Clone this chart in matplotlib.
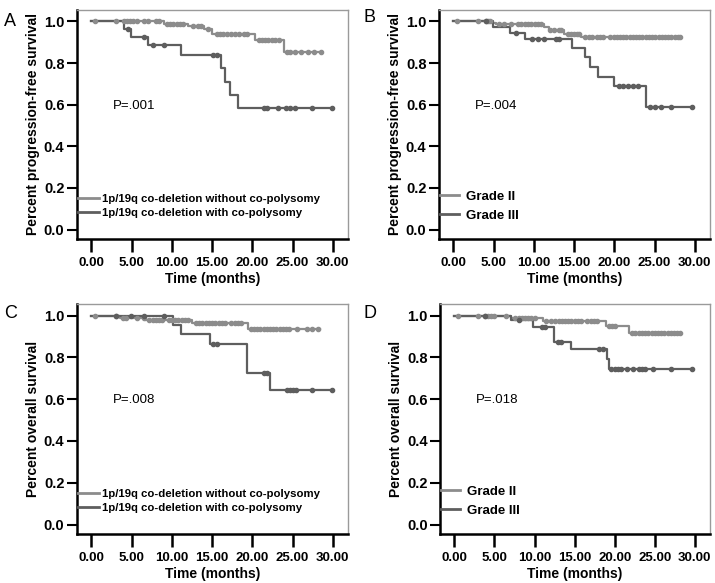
import matplotlib
matplotlib.use("Agg")
import matplotlib.pyplot as plt
from matplotlib.lines import Line2D
import numpy as np

plt.rcParams['font.family'] = ['Liberation Sans', 'DejaVu Sans']

LIGHT = '#8c8c8c'
DARK = '#5e5e5e'

# ---- Panel A: PFS by co-polysomy ----
a1_t = [0, 9.0, 12.0, 14.0, 15.0, 20.3, 24.0]
a1_s = [1.0, 0.988, 0.976, 0.963, 0.940, 0.910, 0.852]
a1_end = 28.5
a1_c = [0.5, 3.0, 4.0, 4.4, 4.8, 5.2, 5.6, 6.5, 7.0, 8.0, 8.4, 9.4, 9.8, 10.2, 10.6,
        11.0, 11.4, 12.6, 13.2, 13.6, 14.5, 15.6, 16.0, 16.4, 16.9, 17.4, 17.8, 18.3,
        19.0, 19.4, 20.8, 21.2, 21.6, 22.0, 22.4, 22.8, 23.3, 24.3, 24.7, 25.3, 26.0,
        26.9, 27.7, 28.5]
a2_t = [0, 4.0, 4.9, 7.0, 11.1, 16.1, 16.6, 17.2, 18.2]
a2_s = [1.0, 0.962, 0.923, 0.889, 0.840, 0.775, 0.710, 0.646, 0.582]
a2_end = 29.9
a2_c = [4.5, 6.5, 7.6, 9.0, 15.1, 15.6, 21.5, 21.8, 23.2, 24.2, 24.7, 25.3, 27.4, 29.9]

# ---- Panel B: PFS by grade ----
b1_t = [0, 4.8, 5.3, 11.3, 11.9, 13.8, 15.8]
b1_s = [1.0, 0.993, 0.987, 0.974, 0.960, 0.940, 0.923]
b1_end = 28.2
b1_c = [0.45, 3.0, 4.0, 4.3, 4.6, 5.6, 6.3, 7.2, 8.0, 8.4, 8.9, 9.3, 9.7, 10.1, 10.5,
        10.9, 12.0, 12.5, 13.1, 13.4, 14.2, 14.6, 15.0, 15.3, 15.6, 16.4, 16.8, 17.2,
        17.8, 18.2, 18.6, 19.5, 19.9, 20.3, 20.7, 21.1, 21.5, 21.9, 22.3, 22.7, 23.1,
        23.5, 23.9, 24.3, 24.7, 25.1, 25.5, 25.9, 26.3, 26.7, 27.1, 27.5, 27.9, 28.2]
b2_t = [0, 4.9, 7.0, 8.9, 14.8, 16.4, 17.0, 18.0, 19.9, 24.0]
b2_s = [1.0, 0.971, 0.946, 0.914, 0.874, 0.827, 0.782, 0.734, 0.690, 0.590]
b2_end = 29.7
b2_c = [4.0, 7.8, 9.8, 10.5, 11.3, 12.7, 13.1, 20.6, 21.1, 21.7, 22.3, 22.9, 24.4,
        25.0, 25.8, 27.0, 29.7]

# ---- Panel C: OS by co-polysomy ----
c1_t = [0, 3.5, 6.7, 12.5, 19.5]
c1_s = [1.0, 0.99, 0.978, 0.965, 0.936]
c1_end = 28.4
c1_c = [0.5, 3.0, 3.9, 4.3, 5.6, 6.5, 7.2, 7.6, 8.0, 8.4, 8.8, 9.6, 10.0, 10.4, 10.8,
        11.2, 11.6, 12.0, 13.0, 13.4, 13.8, 14.2, 14.6, 15.0, 15.4, 15.8, 16.2, 16.6,
        17.4, 17.8, 18.2, 18.6, 19.8, 20.2, 20.6, 21.0, 21.4, 21.8, 22.2, 22.6, 23.0,
        23.4, 23.8, 24.2, 24.6, 25.6, 26.8, 27.4, 28.2]
c2_t = [0, 10.1, 11.1, 14.7, 19.3, 22.2]
c2_s = [1.0, 0.955, 0.912, 0.862, 0.727, 0.645]
c2_end = 29.9
c2_c = [3.0, 4.9, 6.5, 9.0, 15.1, 15.6, 21.5, 21.8, 24.3, 24.7, 25.0, 25.4, 27.4, 29.9]

# ---- Panel D: OS by grade ----
d1_t = [0, 7.0, 11.0, 18.9, 21.8]
d1_s = [1.0, 0.988, 0.975, 0.952, 0.915]
d1_end = 28.2
d1_c = [0.5, 3.0, 3.8, 4.2, 4.6, 5.0, 6.4, 7.6, 8.0, 8.4, 8.8, 9.2, 9.6, 10.0, 11.4,
        12.0, 12.5, 13.0, 13.4, 13.8, 14.2, 14.6, 15.0, 15.4, 15.8, 16.6, 17.0, 17.4,
        17.8, 19.3, 19.7, 20.1, 22.2, 22.6, 23.0, 23.4, 23.8, 24.2, 24.6, 25.0, 25.4,
        25.8, 26.2, 26.6, 27.0, 27.4, 27.8, 28.2]
d2_t = [0, 7.0, 9.8, 12.4, 14.6, 19.0, 19.3]
d2_s = [1.0, 0.978, 0.945, 0.875, 0.838, 0.79, 0.745]
d2_end = 29.7
d2_c = [3.8, 8.0, 10.9, 11.3, 12.9, 13.3, 18.1, 18.6, 19.6, 20.0, 20.4, 20.8, 21.6,
        22.3, 23.0, 23.4, 23.8, 24.8, 27.0, 29.7]

x_ticks = [0, 5, 10, 15, 20, 25, 30]
x_labels = ['0.00', '5.00', '10.00', '15.00', '20.00', '25.00', '30.00']
y_ticks = [0.0, 0.2, 0.4, 0.6, 0.8, 1.0]

copoly_labels = ['1p/19q co-deletion without co-polysomy', '1p/19q co-deletion with co-polysomy']
grade_labels = ['Grade II', 'Grade III']

W, H = 715, 583
fig = plt.figure(figsize=(W / 100, H / 100), dpi=100)


def add_ax(left, top, width, height):
    return fig.add_axes([left / W, 1 - (top + height) / H, width / W, height / H])


def km_curve(ax, times, surv, end, cens, color):
    t = np.array(list(times) + [end])
    s = np.array(list(surv) + [surv[-1]])
    ax.step(t, s, where='post', color=color, lw=1.6, zorder=3)
    cens = np.array(cens)
    idx = np.searchsorted(np.array(times), cens, side='right') - 1
    ax.plot(cens, np.array(surv)[idx], 'o', color=color, ms=3, zorder=4)


def style_ax(ax, ylabel):
    ax.set_xlim(-1.8, 31.9)
    ax.set_ylim(-0.045, 1.055)
    ax.set_xticks(x_ticks)
    ax.set_xticklabels(x_labels)
    ax.set_yticks(y_ticks)
    ax.set_yticklabels(['%.1f' % v for v in y_ticks])
    for lab in ax.get_xticklabels():
        lab.set_fontweight('bold')
        lab.set_fontsize(9.5)
    for lab in ax.get_yticklabels():
        lab.set_fontweight('bold')
        lab.set_fontsize(10.5)
    ax.tick_params(axis='x', length=9, width=1.8, direction='out', pad=4)
    ax.tick_params(axis='y', length=7, width=1.5, direction='out', pad=2)
    ax.spines['left'].set_linewidth(1.8)
    ax.spines['bottom'].set_linewidth(1.8)
    for sp in ['top', 'right']:
        ax.spines[sp].set_color('#9a9a9a')
        ax.spines[sp].set_linewidth(1.0)
    ax.set_xlabel('Time (months)', fontweight='bold', fontsize=10, labelpad=2)
    ax.set_ylabel(ylabel, fontweight='bold', fontsize=10, labelpad=3)


def add_legend(ax, labels, y0, hl, pad, spacing, size):
    handles = [Line2D([], [], color=LIGHT, lw=2), Line2D([], [], color=DARK, lw=2)]
    ax.legend(handles, labels, loc='lower left', bbox_to_anchor=(0.005, y0),
              frameon=False, borderpad=0, borderaxespad=0, handlelength=hl,
              handletextpad=pad, labelspacing=spacing,
              prop={'weight': 'bold', 'size': size})


panels = [
    ('A', (77, 10, 271, 229), 'Percent progression-free survival', 'P=.001',
     (a1_t, a1_s, a1_end, a1_c), (a2_t, a2_s, a2_end, a2_c), copoly_labels),
    ('B', (439, 10, 271, 229), 'Percent progression-free survival', 'P=.004',
     (b1_t, b1_s, b1_end, b1_c), (b2_t, b2_s, b2_end, b2_c), grade_labels),
    ('C', (77, 304, 271, 230), 'Percent overall survival', 'P=.008',
     (c1_t, c1_s, c1_end, c1_c), (c2_t, c2_s, c2_end, c2_c), copoly_labels),
    ('D', (440, 304, 270, 230), 'Percent overall survival', 'P=.018',
     (d1_t, d1_s, d1_end, d1_c), (d2_t, d2_s, d2_end, d2_c), grade_labels),
]

letter_pos = {'A': (4, 22), 'B': (364, 18), 'C': (4, 313), 'D': (364, 313)}

for letter, box, ylabel, ptext, g1, g2, labels in panels:
    ax = add_ax(*box)
    km_curve(ax, *g1, LIGHT)
    km_curve(ax, *g2, DARK)
    style_ax(ax, ylabel)
    ax.text(2.7, 0.595, ptext, fontsize=9.5, va='center', ha='left')
    if labels is grade_labels:
        add_legend(ax, labels, 0.075, 1.45, 0.5, 0.5, 9.5)
    else:
        add_legend(ax, labels, 0.09, 1.8, 0.3, 0.35, 8.2)
    lx, ly = letter_pos[letter]
    fig.text(lx / W, 1 - ly / H, letter, fontsize=13, va='center', ha='left')

fig.savefig('out.png', dpi=100)
